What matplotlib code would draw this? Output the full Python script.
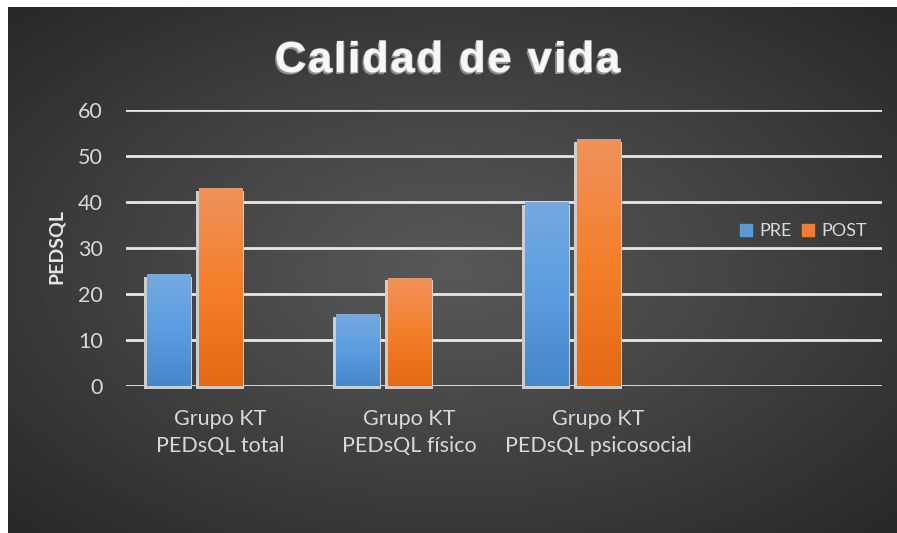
import numpy as np
import matplotlib
matplotlib.use("Agg")
import matplotlib.pyplot as plt
import matplotlib.patheffects as pe
from matplotlib.colors import LinearSegmentedColormap
from matplotlib.patches import Patch
from matplotlib.transforms import offset_copy

# datos
categorias = ["Grupo KT\nPEDsQL total", "Grupo KT\nPEDsQL físico",
              "Grupo KT\nPEDsQL psicosocial", ""]
pre = [24.3, 15.6, 40.0]
post = [43.0, 23.5, 53.6]
series = ["PRE", "POST"]
yticks = [0, 10, 20, 30, 40, 50, 60]
titulo = "Calidad de vida"

plt.rcParams['font.family'] = ['Lato', 'DejaVu Sans']

W, H, DPI = 897, 533, 100
fig = plt.figure(figsize=(W / DPI, H / DPI), dpi=DPI, facecolor='white')

# fondo con degradado radial
bg = fig.add_axes([8 / W, 0, 1 - 8 / W, 1 - 7 / H])
bg.set_axis_off()
yy, xx = np.mgrid[0:1:300j, 0:1:500j]
r = np.sqrt(((xx - 0.5) / 0.5) ** 2 + ((yy - 0.5) / 0.5) ** 2) / np.sqrt(2)
gris = (88 - 48 * np.clip(r, 0, 1) ** 1.1) / 255
bg.imshow(gris, cmap='gray', vmin=0, vmax=1, extent=[0, 1, 0, 1],
          aspect='auto', origin='lower')
bg.set_xlim(0, 1)
bg.set_ylim(0, 1)

ax = fig.add_axes([126 / W, 1 - 386 / H, 756 / W, 276 / H])
ax.set_facecolor('none')

azul = LinearSegmentedColormap.from_list('azul', ['#4487c9', '#5b9de0', '#74aae0'])
naranja = LinearSegmentedColormap.from_list('naranja', ['#e46a15', '#f47f2a', '#f0925c'])

x = np.arange(len(pre))
desp = 0.275
ancho = 0.229
sombra = offset_copy(ax.transData, fig=fig, x=-0.5, y=-2.5, units='dots')


def barras(xs, vals, cmap):
    ax.bar(xs, vals, width=ancho * 1.1, color='#cdcdcd', transform=sombra,
           zorder=2, clip_on=False)
    rects = ax.bar(xs, vals, width=ancho, color=cmap(0.5), zorder=3)
    grad = np.linspace(0, 1, 256).reshape(-1, 1)
    for rc in rects:
        x0, y0 = rc.get_xy()
        im = ax.imshow(grad, cmap=cmap, origin='lower', aspect='auto',
                       extent=[x0, x0 + rc.get_width(), y0, y0 + rc.get_height()],
                       zorder=4)
        im.set_clip_path(rc)


barras(x - desp, pre, azul)
barras(x, post, naranja)

ax.set_xlim(-0.5, len(categorias) - 0.5)
ax.set_ylim(0, 60)
ax.set_yticks(yticks)
ax.set_xticks(np.arange(len(categorias)))
ax.set_xticklabels(categorias, linespacing=1.45)
ax.set_axisbelow(True)
ax.yaxis.grid(True, color='#e8e8e8', linewidth=2)
for s in ax.spines.values():
    s.set_visible(False)
ax.tick_params(axis='both', length=0, colors='#d9d9d9', labelsize=15.5)
ax.tick_params(axis='y', pad=16.5)
ax.tick_params(axis='x', pad=16.5)

ax.set_ylabel("PEDSQL", fontsize=14, fontweight='bold', color='#e6e6e6')
ax.yaxis.set_label_coords(-0.0807, 0.505)

handles = [Patch(color='#5b9bd5'), Patch(color='#ed7d31')]
ax.legend(handles, series, loc='center', bbox_to_anchor=(0.896, 0.5616),
          ncol=2, frameon=False, fontsize=13, labelcolor='#d9d9d9',
          handlelength=0.67, handleheight=0.67, handletextpad=0.4,
          columnspacing=0.55, borderpad=0)

# titulo con espaciado entre letras
renderer = fig.canvas.get_renderer()
props = dict(fontsize=31, fontweight='bold', family=['Liberation Sans', 'DejaVu Sans'],
             color='#f7f7f7', va='baseline', ha='left')
efectos = [pe.withSimplePatchShadow(offset=(-1.2, -1.6), shadow_rgbFace='#8a8a8a', alpha=1),
           pe.withStroke(linewidth=1, foreground='#b5b5b5')]
anchos = []
for ch in titulo:
    if ch == ' ':
        anchos.append(None)
        continue
    t = fig.text(0, 0, ch, **props)
    anchos.append(t.get_window_extent(renderer).width)
    t.remove()
esp_w = 0.278 * 31 * DPI / 72
total_obj = 345
letras = [a for a in anchos if a is not None]
n_esp = anchos.count(None)
gap = (total_obj - sum(letras) - n_esp * esp_w) / (len(letras) - 1 + n_esp)
xpos = 447.5 - total_obj / 2
ybase = 1 - 72 / H
for ch, a in zip(titulo, anchos):
    if a is None:
        xpos += esp_w + gap
        continue
    t = fig.text(xpos / W, ybase, ch, **props)
    t.set_path_effects(efectos)
    xpos += a + gap

fig.savefig('out.png', dpi=DPI, facecolor='white')
